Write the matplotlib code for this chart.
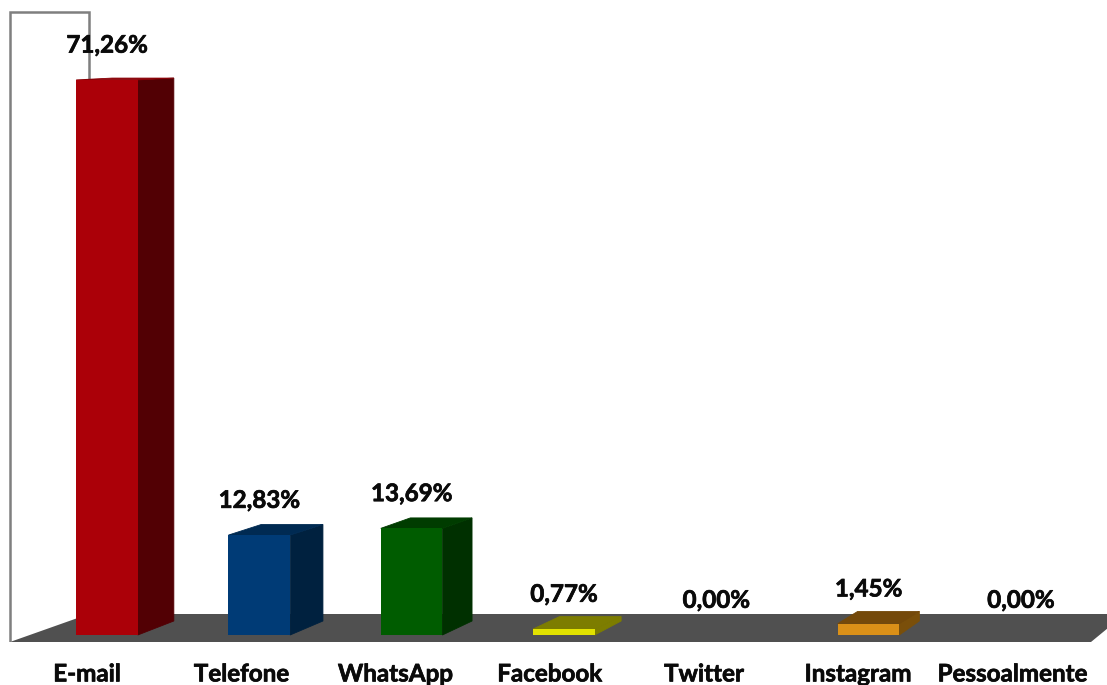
import matplotlib.pyplot as plt
import matplotlib.patheffects as pe
from matplotlib.patches import Polygon

plt.rcParams['font.family'] = ['Lato', 'DejaVu Sans']

categories = ['E-mail', 'Telefone', 'WhatsApp', 'Facebook', 'Twitter', 'Instagram', 'Pessoalmente']
values = [71.26, 12.83, 13.69, 0.77, 0.00, 1.45, 0.00]
labels = ['71,26%', '12,83%', '13,69%', '0,77%', '0,00%', '1,45%', '0,00%']

front_colors = ['#ab0008', '#003b76', '#005c00', '#e2e200', '#000000', '#da9018', '#000000']
side_colors = ['#520004', '#00213f', '#003000', '#7d7d00', '#000000', '#7a4f0a', '#000000']
top_colors = ['#8a0006', '#002a52', '#003c00', '#7d7d00', '#000000', '#74490a', '#000000']

# escala de la imagen original
px_x = 152.3   # pixeles entre categorias
px_y = 7.79    # pixeles por punto porcentual
x0 = 107
y0 = 635
bar_width = 0.405
heavy = [pe.withStroke(linewidth=0.5, foreground='#0a0a0a')]  # la fuente original es mas gruesa

fig = plt.figure(figsize=(11.07, 6.85), dpi=100)
ax = fig.add_axes([0, 43 / 685, 1, 642 / 685])
ax.set_xlim(-x0 / px_x, (1107 - x0) / px_x)
ax.set_ylim((y0 - 642) / px_y, y0 / px_y)
ax.patch.set_alpha(0)
for s in ax.spines.values():
    s.set_visible(False)
ax.tick_params(left=False, bottom=False, labelleft=False)
# las etiquetas del eje van corridas respecto a las barras
ax.set_xticks([(87 + 154.2 * i - x0) / px_x for i in range(len(categories))])
ax.set_xticklabels(categories, fontsize=17.4, fontweight='bold', color='#0a0a0a', path_effects=heavy)
ax.tick_params(axis='x', pad=11.2)


def p(x, y):
    # pixel de la imagen a coordenadas de datos
    return ((x - x0) / px_x, (y0 - y) / px_y)


# suelo y pared del fondo
floor = [p(10, 642), p(1091, 642), p(1125, 614), p(89, 614)]
ax.add_patch(Polygon(floor, facecolor='#505050', edgecolor='none', zorder=1))
ax.plot(*zip(p(10, 643), p(1091, 643)), color='#b0b0b0', lw=1.2, zorder=1)
ax.plot(*zip(p(10, 642), p(10, 12), p(89, 12), p(89, 80)), color='#7f7f7f', lw=1.8,
        solid_joinstyle='miter', zorder=1)

for i, v in enumerate(values):
    left = i - bar_width / 2
    right = i + bar_width / 2
    # la profundidad baja de izquierda a derecha por la perspectiva
    dx = (36 - 3.2 * i) / px_x
    dy_base = 14 / px_y
    dy_top = (12.5 - 0.15 * v) / px_y
    if v > 0:
        ax.add_patch(Polygon([(right, 0), (right + dx, dy_base), (right + dx, v + dy_top), (right, v)],
                             facecolor=side_colors[i], edgecolor=side_colors[i], lw=0.6, zorder=3))
        ax.add_patch(Polygon([(left, v), (right, v), (right + dx, v + dy_top), (left + dx, v + dy_top)],
                             facecolor=top_colors[i], edgecolor=top_colors[i], lw=0.6, zorder=3))
        ax.bar(i, v, width=bar_width, color=front_colors[i], zorder=4)
    ax.annotate(labels[i], (i, v), xytext=(0, 25), textcoords='offset points', ha='center', va='center',
                fontsize=17.4, fontweight='bold', color='#0a0a0a', zorder=5, path_effects=heavy)

plt.savefig('out.png', dpi=100)
plt.close()
